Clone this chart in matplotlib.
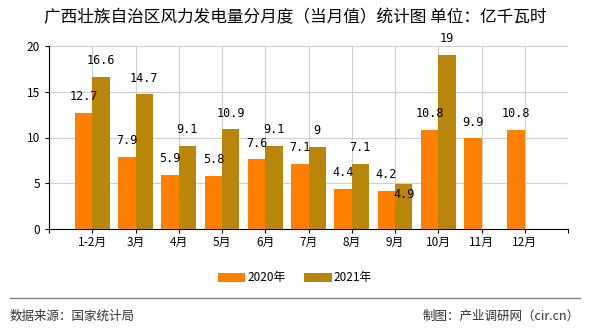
import numpy as np
import matplotlib.pyplot as plt

plt.rcParams['font.family'] = ['Noto Sans CJK SC', 'DejaVu Sans']

months = ["1-2月", "3月", "4月", "5月", "6月", "7月", "8月", "9月", "10月", "11月", "12月"]
v2020 = [12.7, 7.9, 5.9, 5.8, 7.6, 7.1, 4.4, 4.2, 10.8, 9.9, 10.8]
v2021 = [16.6, 14.7, 9.1, 10.9, 9.1, 9, 7.1, 4.9, 19, None, None]

c2020 = "#ff8000"
c2021 = "#b8860b"

fig = plt.figure(figsize=(5.9, 3.3), dpi=100)
ax = fig.add_axes([49 / 590, 1 - 229 / 330, 519 / 590, 183 / 330])

x = np.arange(len(months))
w = 0.4
ax.bar(x - w / 2, v2020, w, color=c2020, label="2020年", zorder=3)
x21 = [i for i, v in enumerate(v2021) if v is not None]
y21 = [v for v in v2021 if v is not None]
ax.bar(np.array(x21) + w / 2, y21, w, color=c2021, label="2021年", zorder=3)

def fmt(v):
    return ("%g" % v)

for i, v in enumerate(v2020):
    ax.annotate(fmt(v), (i - w / 2, v), xytext=(0, 7), textcoords="offset points",
                ha="center", va="bottom", fontsize=8.5, family="DejaVu Sans Mono", zorder=4)
for i, v in zip(x21, y21):
    dy = 7
    va = "bottom"
    if months[i] == "9月":
        dy, va = -3, "top"
    ax.annotate(fmt(v), (i + w / 2, v), xytext=(0, dy), textcoords="offset points",
                ha="center", va=va, fontsize=8.5, family="DejaVu Sans Mono", zorder=4)

ax.set_xlim(-1, 11)
ax.set_ylim(0, 20)
ax.set_yticks([0, 5, 10, 15, 20])
ax.set_xticks(np.arange(-1, 12))
ax.set_xticklabels([""] + months + [""])
ax.grid(True, color="#d0d0d0", lw=0.8, zorder=0)
ax.tick_params(axis="both", labelsize=8.5, length=3, color="black")
ax.tick_params(axis="x", pad=2)
for s in ["top", "right"]:
    ax.spines[s].set_visible(False)
ax.spines["left"].set_color("black")
ax.spines["bottom"].set_color("black")

fig.text(0.5, 1 - 18 / 330, "广西壮族自治区风力发电量分月度（当月值）统计图 单位：亿千瓦时",
         ha="center", va="center", fontsize=12)

fig.legend(loc="center", bbox_to_anchor=(0.5, 1 - 278 / 330), ncol=2, frameon=False,
           fontsize=8.5, handlelength=2.3, handleheight=0.9, columnspacing=1.6, handletextpad=0.2)

fig.add_artist(plt.Line2D([10 / 590, 580 / 590], [1 - 298 / 330, 1 - 298 / 330],
                          color="#808080", lw=1))
fig.text(10 / 590, 1 - 316 / 330, "数据来源：国家统计局", ha="left", va="center", fontsize=9, color="#333333")
fig.text(580 / 590, 1 - 316 / 330, "制图：产业调研网（cir.cn）", ha="right", va="center", fontsize=9, color="#333333")

fig.savefig("out.png", dpi=100)
